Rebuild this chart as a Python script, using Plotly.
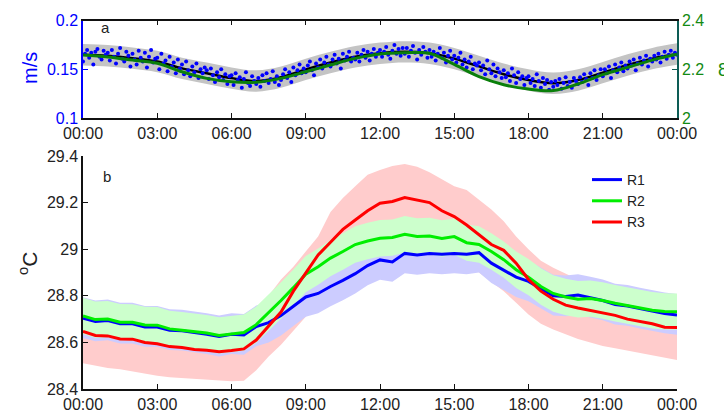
import plotly.graph_objects as go

# ---------------- DATA ----------------
tick_hours = [0, 3, 6, 9, 12, 15, 18, 21, 24]
tick_labels = ["00:00", "03:00", "06:00", "09:00", "12:00", "15:00", "18:00", "21:00", "00:00"]

# Panel a (hourly)
hours_a = list(range(25))
speed_mean = [0.165, 0.164, 0.1615, 0.158, 0.151, 0.146, 0.141, 0.138, 0.142, 0.150, 0.157, 0.163,
              0.1665, 0.168, 0.1665, 0.161, 0.153, 0.145, 0.139, 0.1357, 0.139, 0.1466, 0.1545, 0.161, 0.1657]
speed_upper = [0.176, 0.175, 0.1725, 0.169, 0.162, 0.157, 0.152, 0.149, 0.153, 0.161, 0.168, 0.174,
               0.1775, 0.179, 0.1775, 0.172, 0.164, 0.156, 0.150, 0.1467, 0.150, 0.1576, 0.1655, 0.172, 0.1767]
speed_lower = [0.154, 0.153, 0.1505, 0.147, 0.140, 0.135, 0.130, 0.127, 0.131, 0.139, 0.146, 0.152,
               0.1555, 0.157, 0.1555, 0.150, 0.142, 0.134, 0.128, 0.1247, 0.128, 0.1356, 0.1435, 0.150, 0.1547]
right_series = [2.259, 2.251, 2.238, 2.225, 2.19, 2.163, 2.149, 2.147, 2.163, 2.19, 2.218, 2.245,
                2.263, 2.268, 2.266, 2.22, 2.17, 2.137, 2.119, 2.113, 2.14, 2.178, 2.208, 2.238, 2.262]

# blue dots, 5-minute samples (12 per hour)
speed_obs = [
    0.158, 0.166, 0.170, 0.162, 0.167, 0.155, 0.168, 0.171, 0.163, 0.160, 0.169, 0.165,
    0.167, 0.159, 0.170, 0.163, 0.156, 0.166, 0.172, 0.161, 0.158, 0.168, 0.164, 0.153,
    0.166, 0.160, 0.155, 0.169, 0.162, 0.158, 0.167, 0.152, 0.163, 0.170, 0.157, 0.161,
    0.162, 0.150, 0.166, 0.156, 0.159, 0.148, 0.163, 0.153, 0.157, 0.146, 0.160, 0.151,
    0.155, 0.145, 0.158, 0.149, 0.143, 0.153, 0.147, 0.156, 0.141, 0.150, 0.146, 0.152,
    0.149, 0.140, 0.151, 0.144, 0.137, 0.147, 0.142, 0.150, 0.139, 0.145, 0.135, 0.143,
    0.144, 0.134, 0.146, 0.139, 0.142, 0.131, 0.140, 0.147, 0.136, 0.133, 0.143, 0.138,
    0.135, 0.141, 0.132, 0.144, 0.138, 0.146, 0.136, 0.140, 0.148, 0.137, 0.143, 0.134,
    0.139, 0.145, 0.150, 0.141, 0.147, 0.137, 0.152, 0.144, 0.149, 0.155, 0.146, 0.151,
    0.147, 0.154, 0.158, 0.149, 0.144, 0.156, 0.152, 0.160, 0.151, 0.157, 0.163, 0.155,
    0.153, 0.160, 0.165, 0.156, 0.161, 0.151, 0.166, 0.159, 0.163, 0.168, 0.158, 0.162,
    0.160, 0.167, 0.158, 0.165, 0.170, 0.162, 0.168, 0.159, 0.166, 0.171, 0.163, 0.167,
    0.170, 0.163, 0.168, 0.173, 0.165, 0.161, 0.169, 0.175, 0.166, 0.171, 0.164, 0.172,
    0.166, 0.172, 0.163, 0.169, 0.174, 0.167, 0.160, 0.170, 0.165, 0.173, 0.168, 0.162,
    0.170, 0.163, 0.168, 0.159, 0.166, 0.172, 0.162, 0.167, 0.157, 0.164, 0.169, 0.160,
    0.164, 0.157, 0.162, 0.167, 0.155, 0.160, 0.152, 0.158, 0.163, 0.150, 0.156, 0.154,
    0.157, 0.149, 0.154, 0.145, 0.159, 0.150, 0.146, 0.155, 0.143, 0.151, 0.147, 0.141,
    0.149, 0.142, 0.146, 0.138, 0.151, 0.144, 0.136, 0.147, 0.140, 0.143, 0.134, 0.141,
    0.143, 0.136, 0.140, 0.133, 0.145, 0.138, 0.131, 0.141, 0.135, 0.139, 0.129, 0.137,
    0.132, 0.138, 0.134, 0.140, 0.130, 0.136, 0.142, 0.133, 0.137, 0.131, 0.141, 0.138,
    0.135, 0.142, 0.137, 0.145, 0.140, 0.134, 0.146, 0.141, 0.149, 0.139, 0.144, 0.150,
    0.143, 0.150, 0.146, 0.153, 0.141, 0.149, 0.155, 0.147, 0.152, 0.157, 0.148, 0.154,
    0.151, 0.158, 0.154, 0.160, 0.149, 0.156, 0.162, 0.155, 0.159, 0.164, 0.153, 0.161,
    0.158, 0.164, 0.160, 0.166, 0.157, 0.163, 0.168, 0.161, 0.165, 0.169, 0.162, 0.167,
    0.165,
]
obs_hours = [i / 12 for i in range(len(speed_obs))]

# Panel b (half-hourly)
hours_b = [i * 0.5 for i in range(49)]
r1 = [28.704, 28.69, 28.694, 28.68, 28.68, 28.666, 28.666, 28.652, 28.65, 28.643, 28.635, 28.625,
      28.635, 28.632, 28.668, 28.685, 28.715, 28.755, 28.795, 28.81, 28.84, 28.866, 28.895, 28.93,
      28.954, 28.945, 28.982, 28.975, 28.982, 28.978, 28.982, 28.978, 28.985, 28.94, 28.91, 28.88,
      28.862, 28.83, 28.80, 28.797, 28.803, 28.792, 28.78, 28.762, 28.756, 28.745, 28.735, 28.724, 28.718]
r1_upper = [28.794, 28.78, 28.784, 28.77, 28.77, 28.756, 28.756, 28.742, 28.74, 28.733, 28.725, 28.715,
            28.725, 28.722, 28.758, 28.775, 28.805, 28.845, 28.885, 28.90, 28.93, 28.956, 28.985, 29.02,
            29.044, 29.035, 29.072, 29.065, 29.072, 29.068, 29.072, 29.068, 29.075, 29.03, 29.0, 28.97,
            28.952, 28.92, 28.89, 28.887, 28.893, 28.882, 28.87, 28.852, 28.846, 28.835, 28.825, 28.814, 28.808]
r1_lower = [28.619, 28.605, 28.609, 28.595, 28.595, 28.581, 28.581, 28.567, 28.565, 28.558, 28.55, 28.54,
            28.55, 28.547, 28.583, 28.60, 28.63, 28.67, 28.71, 28.725, 28.755, 28.781, 28.81, 28.845,
            28.869, 28.86, 28.897, 28.89, 28.897, 28.893, 28.897, 28.893, 28.90, 28.855, 28.825, 28.795,
            28.777, 28.745, 28.715, 28.712, 28.718, 28.707, 28.695, 28.677, 28.671, 28.66, 28.65, 28.639, 28.633]
r2 = [28.714, 28.698, 28.70, 28.687, 28.686, 28.675, 28.674, 28.658, 28.652, 28.647, 28.64, 28.63,
      28.637, 28.642, 28.676, 28.726, 28.78, 28.835, 28.893, 28.925, 28.962, 28.99, 29.02, 29.035,
      29.047, 29.05, 29.064, 29.055, 29.057, 29.046, 29.054, 29.028, 29.02, 28.99, 28.955, 28.912,
      28.88, 28.84, 28.81, 28.795, 28.785, 28.788, 28.78, 28.768, 28.758, 28.745, 28.738, 28.733, 28.732]
r2_upper = [28.792, 28.776, 28.778, 28.765, 28.764, 28.753, 28.752, 28.736, 28.73, 28.725, 28.718, 28.708,
            28.715, 28.72, 28.754, 28.804, 28.858, 28.913, 28.971, 29.003, 29.04, 29.068, 29.098, 29.113,
            29.125, 29.128, 29.142, 29.133, 29.135, 29.124, 29.132, 29.106, 29.098, 29.068, 29.033, 28.99,
            28.958, 28.918, 28.888, 28.873, 28.863, 28.866, 28.858, 28.846, 28.836, 28.823, 28.816, 28.811, 28.81]
r2_lower = [28.636, 28.62, 28.622, 28.609, 28.608, 28.597, 28.596, 28.58, 28.574, 28.569, 28.562, 28.552,
            28.559, 28.564, 28.598, 28.648, 28.702, 28.757, 28.815, 28.847, 28.884, 28.912, 28.942, 28.957,
            28.969, 28.972, 28.986, 28.977, 28.979, 28.968, 28.976, 28.95, 28.942, 28.912, 28.877, 28.834,
            28.802, 28.762, 28.732, 28.717, 28.707, 28.71, 28.702, 28.69, 28.68, 28.667, 28.66, 28.655, 28.654]
r3 = [28.647, 28.63, 28.628, 28.615, 28.614, 28.60, 28.594, 28.582, 28.578, 28.57, 28.566, 28.56,
      28.565, 28.572, 28.61, 28.668, 28.73, 28.82, 28.9, 28.975, 29.03, 29.085, 29.125, 29.165,
      29.197, 29.205, 29.222, 29.21, 29.2, 29.165, 29.14, 29.104, 29.06, 29.02, 28.995, 28.94,
      28.87, 28.82, 28.785, 28.76, 28.748, 28.738, 28.728, 28.716, 28.70, 28.69, 28.68, 28.665, 28.664]
r3_upper = [28.785, 28.77, 28.765, 28.755, 28.75, 28.74, 28.73, 28.72, 28.715, 28.71, 28.705, 28.70,
            28.70, 28.71, 28.75, 28.80, 28.87, 28.925, 28.99, 29.054, 29.16, 29.22, 29.27, 29.32,
            29.34, 29.357, 29.366, 29.354, 29.33, 29.30, 29.27, 29.254, 29.21, 29.17, 29.12, 29.054,
            29.0, 28.95, 28.92, 28.895, 28.87, 28.86, 28.85, 28.84, 28.83, 28.82, 28.81, 28.80, 28.80]
r3_lower = [28.51, 28.50, 28.49, 28.485, 28.475, 28.465, 28.457, 28.45, 28.447, 28.443, 28.44, 28.435,
            28.433, 28.435, 28.48, 28.54, 28.59, 28.65, 28.71, 28.77, 28.81, 28.86, 28.90, 28.95,
            28.99, 29.02, 29.04, 29.04, 29.03, 29.0, 28.97, 28.94, 28.90, 28.86, 28.82, 28.77,
            28.72, 28.68, 28.655, 28.635, 28.615, 28.6, 28.585, 28.575, 28.565, 28.555, 28.545, 28.532, 28.525]

# ---------------- FIGURE ----------------
W, H = 724, 412
X0, X1 = 83 / W, 677 / W
FONT = "Liberation Sans, Arial, Helvetica, sans-serif"
TXT = "#222222"

fig = go.Figure()

# panel a
fig.add_trace(go.Scatter(x=hours_a, y=speed_lower, mode="lines", line=dict(width=0, shape="spline"),
                         hoverinfo="skip", showlegend=False, xaxis="x", yaxis="y"))
fig.add_trace(go.Scatter(x=hours_a, y=speed_upper, mode="lines", line=dict(width=0, shape="spline"),
                         fill="tonexty", fillcolor="#c4c4c4", hoverinfo="skip", showlegend=False,
                         xaxis="x", yaxis="y"))
fig.add_trace(go.Scatter(x=hours_a, y=speed_mean, mode="lines", line=dict(color="black", width=2.5, shape="spline"),
                         showlegend=False, xaxis="x", yaxis="y"))
fig.add_trace(go.Scatter(x=obs_hours, y=speed_obs, mode="markers",
                         marker=dict(color="#0000ff", size=4, line=dict(width=0)),
                         showlegend=False, xaxis="x", yaxis="y"))
fig.add_trace(go.Scatter(x=hours_a, y=right_series, mode="lines",
                         line=dict(color="#0a7f0a", width=3, shape="spline"),
                         showlegend=False, xaxis="x", yaxis="y3"))

# panel b bands
def band(lower, upper, color):
    fig.add_trace(go.Scatter(x=hours_b, y=lower, mode="lines", line=dict(width=0),
                             hoverinfo="skip", showlegend=False, xaxis="x2", yaxis="y2"))
    fig.add_trace(go.Scatter(x=hours_b, y=upper, mode="lines", line=dict(width=0),
                             fill="tonexty", fillcolor=color, hoverinfo="skip", showlegend=False,
                             xaxis="x2", yaxis="y2"))

band(r3_lower, r3_upper, "#ffcccc")
band(r1_lower, r1_upper, "#ccccff")
band(r2_lower, r2_upper, "#ccffcc")

fig.add_trace(go.Scatter(x=hours_b, y=r1, mode="lines", name="R1",
                         line=dict(color="#0000ff", width=3), xaxis="x2", yaxis="y2"))
fig.add_trace(go.Scatter(x=hours_b, y=r2, mode="lines", name="R2",
                         line=dict(color="#00ee00", width=3), xaxis="x2", yaxis="y2"))
fig.add_trace(go.Scatter(x=hours_b, y=r3, mode="lines", name="R3",
                         line=dict(color="#ff0000", width=3), xaxis="x2", yaxis="y2"))

common_x = dict(range=[0, 24], tickvals=tick_hours, ticktext=tick_labels, ticks="inside", ticklen=5,
                showline=True, linewidth=1.5, linecolor="#111111", tickcolor="#111111",
                showgrid=False, zeroline=False, automargin=False,
                tickfont=dict(size=16, color=TXT, family=FONT))

fig.update_layout(
    width=W, height=H, margin=dict(l=0, r=0, t=0, b=0, autoexpand=False),
    paper_bgcolor="white", plot_bgcolor="white",
    font=dict(family=FONT, size=16, color=TXT),
    xaxis=dict(domain=[X0, X1], anchor="y", mirror="ticks", **common_x),
    yaxis=dict(domain=[1 - 118 / H, 1 - 20.7 / H], range=[0.1, 0.2], tickvals=[0.1, 0.15, 0.2],
               ticktext=["0.1", "0.15", "0.2"], ticks="inside", ticklen=5, tickcolor="#0000ff",
               showline=True, linewidth=1.5, linecolor="#0000ff", showgrid=False, zeroline=False,
               automargin=False,
               tickfont=dict(size=16, color="#0000ff", family=FONT), anchor="x"),
    yaxis3=dict(overlaying="y", side="right", range=[2, 2.4], tickvals=[2, 2.2, 2.4],
                ticktext=["2", "2.2", "2.4"], ticks="inside", ticklen=5, tickcolor="#0d5c55",
                showline=True, linewidth=1.5, linecolor="#0d5c55", showgrid=False, zeroline=False,
                automargin=False,
                tickfont=dict(size=16, color="#138a13", family=FONT), anchor="x"),
    xaxis2=dict(domain=[X0, X1], anchor="y2", **common_x),
    yaxis2=dict(domain=[1 - 389 / H, 1 - 156 / H], range=[28.4, 29.4],
                tickvals=[28.4, 28.6, 28.8, 29.0, 29.2, 29.4],
                ticktext=["28.4", "28.6", "28.8", "29", "29.2", "29.4"], ticks="inside", ticklen=5,
                showline=True, linewidth=1.5, linecolor="#111111", tickcolor="#111111",
                showgrid=False, zeroline=False, automargin=False,
                tickfont=dict(size=16, color=TXT, family=FONT),
                anchor="x2"),
    showlegend=True,
    legend=dict(x=587 / W, y=1 - 164 / H, xanchor="left", yanchor="top", bgcolor="rgba(0,0,0,0)",
                font=dict(size=14, color=TXT, family=FONT), tracegroupgap=0, traceorder="normal"),
    annotations=[
        dict(text="a", x=105 / W, y=1 - 28 / H, xref="paper", yref="paper", showarrow=False,
             xanchor="center", yanchor="middle", font=dict(size=15, color=TXT, family=FONT)),
        dict(text="b", x=107 / W, y=1 - 176 / H, xref="paper", yref="paper", showarrow=False,
             xanchor="center", yanchor="middle", font=dict(size=15, color=TXT, family=FONT)),
        dict(text="m/s", x=30 / W, y=1 - 68 / H, xref="paper", yref="paper", showarrow=False,
             xanchor="center", yanchor="middle",
             textangle=-90, font=dict(size=20, color="#0000ff", family=FONT)),
        dict(text="<sup>o</sup>C", x=28 / W, y=1 - 264 / H, xref="paper", yref="paper", showarrow=False,
             xanchor="center", yanchor="middle",
             textangle=-90, font=dict(size=21, color=TXT, family=FONT)),
        dict(text="8", x=716 / W, y=1 - 70 / H, xref="paper", yref="paper", showarrow=False,
             xanchor="left", yanchor="middle", font=dict(size=18, color="#138a13", family=FONT)),
    ],
)

fig.write_html("out.html")
